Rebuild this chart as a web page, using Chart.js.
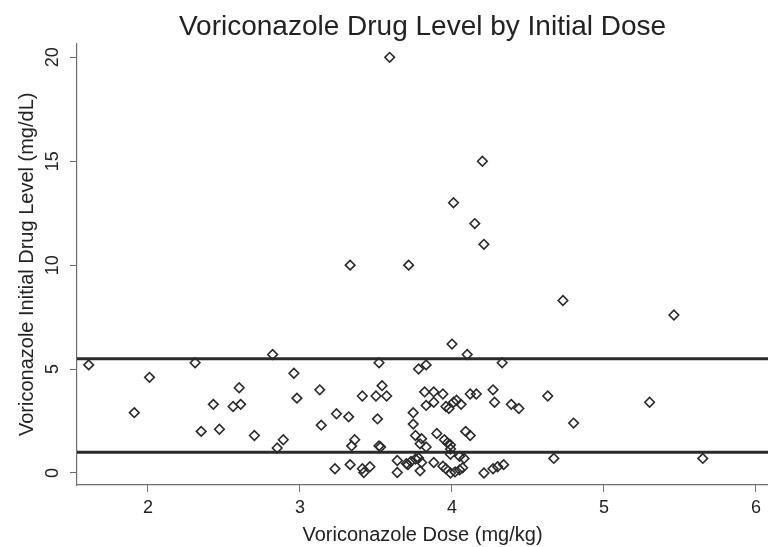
<!DOCTYPE html>
<html>
<head>
<meta charset="utf-8">
<script src="https://cdn.jsdelivr.net/npm/chart.js@4"></script>
<style>
  html, body { margin: 0; padding: 0; background: #fff; }
</style>
</head>
<body>
<canvas id="chartDose" width="768" height="547"></canvas>
<script>
// dose (mg/kg) and initial level (mg/dL), one entry per patient
const doses = [1.61, 1.91, 2.01, 2.31, 2.35, 2.43, 2.47, 2.56, 2.60, 2.61,
  2.70, 2.82, 2.85, 2.89, 2.96, 2.98, 3.13, 3.14, 3.23, 3.24,
  3.32, 3.33, 3.33, 3.34, 3.36, 3.41, 3.41, 3.42, 3.46, 3.50,
  3.51, 3.52, 3.52, 3.53, 3.54, 3.57, 3.59, 3.64, 3.64, 3.70,
  3.71, 3.715, 3.73, 3.745, 3.745, 3.76, 3.76, 3.78, 3.78, 3.79,
  3.79, 3.80, 3.80, 3.82, 3.83, 3.83, 3.83, 3.88, 3.88, 3.88,
  3.90, 3.94, 3.94, 3.95, 3.96, 3.96, 3.97, 3.98, 3.99, 3.99,
  3.99, 3.99, 4.00, 4.01, 4.01, 4.02, 4.03, 4.05, 4.05, 4.06,
  4.07, 4.08, 4.09, 4.10, 4.12, 4.12, 4.15, 4.16, 4.20, 4.21,
  4.21, 4.27, 4.27, 4.28, 4.30, 4.33, 4.34, 4.39, 4.44, 4.63,
  4.67, 4.73, 4.80, 5.30, 5.46, 5.65];
const levels = [5.2, 2.9, 4.6, 5.3, 2.0, 3.3, 2.1, 3.2, 4.1, 3.3,
  1.8, 5.7, 1.2, 1.6, 4.8, 3.6, 4.0, 2.3, 0.2, 2.85,
  2.7, 10.0, 0.4, 1.3, 1.6, 3.7, 0.2, 0.02, 0.3, 3.7,
  2.6, 5.3, 1.3, 1.25, 4.2, 3.7, 20.0, 0.6, 0.02, 0.45,
  0.4, 10.0, 0.55, 2.9, 2.35, 1.8, 0.67, 5.0, 0.72, 1.4,
  0.1, 1.65, 0.5, 3.9, 5.2, 3.25, 1.25, 3.9, 3.4, 0.5,
  1.9, 3.8, 0.32, 1.6, 3.2, 0.2, 1.45, 3.1, 1.35, 1.15,
  0.9, 0.0, 6.2, 13.0, 3.4, 0.05, 3.5, 0.8, 0.15, 3.3,
  0.25, 0.7, 2.0, 5.7, 1.8, 3.8, 12.0, 3.8, 15.0, 11.0,
  0.0, 4.0, 0.2, 3.4, 0.3, 5.3, 0.4, 3.3, 3.1, 3.7,
  0.7, 8.3, 2.4, 3.4, 7.6, 0.7];
const limitLevels = [1, 5.5];
const xTicks = [2, 3, 4, 5, 6];
const yTicks = [0, 5, 10, 15, 20];
const xRange = [1.533, 6.079];
const yRange = [-0.58, 20.66];

Chart.defaults.font.family = "'Liberation Sans', Arial, sans-serif";
Chart.defaults.color = '#222';

const ink = '#2a2a2a';
const axisGrey = '#6e6e6e';

const datasets = [{
  type: 'scatter',
  data: doses.map((d, i) => ({x: d, y: levels[i]})),
  pointStyle: 'rectRot',
  pointRadius: 4.8,
  pointBorderWidth: 1.6,
  pointBorderColor: ink,
  pointBackgroundColor: 'rgba(0,0,0,0)'
}];
limitLevels.forEach(v => {
  datasets.push({
    type: 'line',
    data: [{x: xRange[0], y: v}, {x: xRange[1], y: v}],
    borderColor: ink,
    borderWidth: 3,
    pointRadius: 0,
    fill: false
  });
});

const chartDose = new Chart('chartDose', {
  data: {datasets: datasets},
  options: {
    responsive: false,
    animation: false,
    layout: {padding: 0, autoPadding: false},
    plugins: {
      legend: {display: false},
      tooltip: {enabled: false},
      title: {
        display: true,
        fullSize: false,
        text: 'Voriconazole Drug Level by Initial Dose',
        font: {size: 28, weight: 'normal'},
        color: '#222',
        padding: {top: 10, bottom: 0}
      }
    },
    scales: {
      x: {
        type: 'linear',
        min: xRange[0],
        max: xRange[1],
        afterBuildTicks: s => { s.ticks = xTicks.map(v => ({value: v})); },
        afterFit: s => { s.height = 62; s.paddingLeft = 0; s.paddingRight = 0; },
        grid: {display: true, drawOnChartArea: false, drawTicks: true, tickLength: 7, color: axisGrey},
        border: {display: true, color: axisGrey, width: 1.2},
        ticks: {font: {size: 18}, color: '#222', padding: 5, maxRotation: 0, callback: v => v},
        title: {display: true, text: 'Voriconazole Dose (mg/kg)', font: {size: 20}, color: '#222', padding: {top: 0, bottom: 0}}
      },
      y: {
        type: 'linear',
        min: yRange[0],
        max: yRange[1],
        afterBuildTicks: s => { s.ticks = yTicks.map(v => ({value: v})); },
        afterFit: s => { s.width = 77; s.paddingTop = 0; s.paddingBottom = 0; },
        grid: {display: true, drawOnChartArea: false, drawTicks: true, tickLength: 7, color: axisGrey},
        border: {display: true, color: axisGrey, width: 1.2},
        ticks: {font: {size: 18}, color: '#222', padding: 7, minRotation: 90, maxRotation: 90, crossAlign: 'center', callback: v => v},
        title: {display: true, text: 'Voriconazole Initial Drug Level (mg/dL)', font: {size: 20}, color: '#222', padding: {top: 15, bottom: 0}}
      }
    }
  }
});
</script>
</body>
</html>
